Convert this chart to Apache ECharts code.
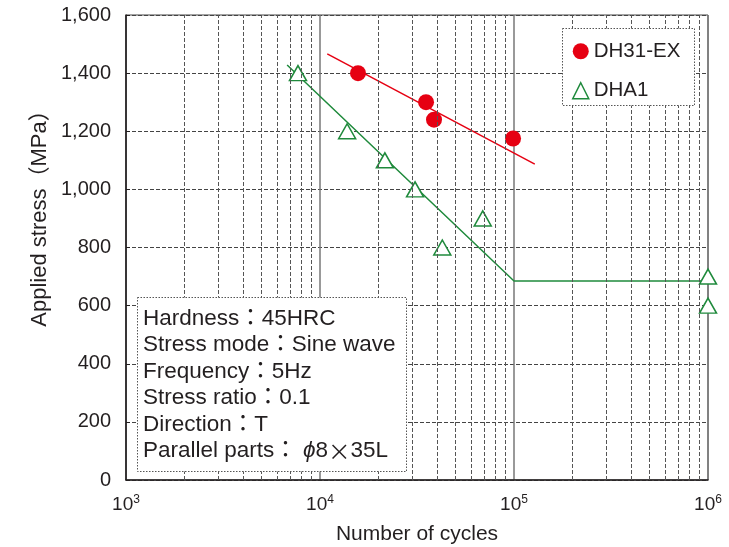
<!DOCTYPE html>
<html><head><meta charset="utf-8">
<script src="https://cdn.jsdelivr.net/npm/echarts@6/dist/echarts.min.js"></script>
<style>html,body{margin:0;padding:0;background:#fff}#c{width:729px;height:547px}</style>
</head><body><div id="c"></div>
<script>
// ---- data ----
const dh31Cycles = [15700, 35200, 38700, 98900];
const dh31Stress = [1400, 1300, 1240, 1175];
const dha1Cycles = [7700, 13800, 21600, 30900, 42700, 69000, 1000000, 1000000];
const dha1Stress = [1400, 1200, 1100, 1000, 800, 900, 700, 600];
const dh31FitCycles = [10900, 128000];
const dh31FitStress = [1466, 1087];
const dha1FitCycles = [6770, 100000, 1000000];
const dha1FitStress = [1428, 685, 685];
const minorCycles = [2000,3000,4000,5000,6000,7000,8000,9000,
  20000,30000,40000,50000,60000,70000,80000,90000,
  200000,300000,400000,500000,600000,700000,800000,900000];
const seriesNames = ['DH31-EX', 'DHA1'];
const infoLines = ['Hardness：45HRC', 'Stress mode：Sine wave', 'Frequency：5Hz',
  'Stress ratio：0.1', 'Direction：T'];
const lastInfoLabel = 'Parallel parts：';
const lastInfoPhi = ' ϕ';
const lastInfoValue = '8';
const lastInfoTimes = '×';
const lastInfoTail = '35L';
const xAxisName = 'Number of cycles';
const yAxisName = 'Applied stress（MPa）';

const RED = '#e60012', GREEN = '#1f8a3c', INK = '#231f20';
const FONT = '"Liberation Sans", Arial, "Noto Sans CJK JP", sans-serif';
const zip = (a, b) => a.map((v, i) => [v, b[i]]);

const chart = echarts.init(document.getElementById('c'));
const lineTops = [319, 345, 372, 398, 425, 451];
const graphics = [
  { type: 'rect', zlevel: 1, z: 1, shape: { x: 562.5, y: 28.5, width: 132, height: 77 },
    style: { fill: '#fff', stroke: '#555', lineWidth: 1, lineDash: [1.5, 1.5] } },
  { type: 'rect', zlevel: 1, z: 1, shape: { x: 137.5, y: 297.5, width: 269, height: 174 },
    style: { fill: '#fff', stroke: '#555', lineWidth: 1, lineDash: [1.5, 1.5] } },
  { type: 'text', z: 4, x: 40, y: 213, rotation: Math.PI / 2,
    style: { text: yAxisName, font: '22px ' + FONT, fill: INK, textAlign: 'center', textVerticalAlign: 'middle' } }
];
infoLines.forEach((t, i) => graphics.push({
  type: 'text', zlevel: 1, z: 5, x: 143, y: lineTops[i],
  style: { text: t, font: '22.5px ' + FONT, fill: INK, textAlign: 'left', textVerticalAlign: 'middle' }
}));
graphics.push({
  type: 'text', zlevel: 1, z: 5, x: 143, y: lineTops[5],
  style: {
    text: '{a|' + lastInfoLabel + '}{p|' + lastInfoPhi + '}{a|' + lastInfoValue + '}{m|' + lastInfoTimes + '}{a|' + lastInfoTail + '}',
    textAlign: 'left', textVerticalAlign: 'middle', fill: INK,
    rich: {
      a: { font: '22.5px ' + FONT, fill: INK },
      p: { font: 'italic 22.5px ' + FONT, fill: INK },
      m: { font: '22.5px "Noto Sans CJK JP"', fill: INK }
    }
  }
});

chart.setOption({
  animation: false,
  backgroundColor: '#fff',
  grid: { left: 126, right: 21, top: 15, bottom: 67, outerBoundsMode: 'none', containLabel: false,
    show: true, borderColor: '#444', borderWidth: 1 },
  legend: {
    zlevel: 2, z: 5, left: 562, top: 28, orient: 'vertical', padding: [13, 12, 13, 10],
    itemWidth: 16, itemHeight: 16, itemGap: 19, itemTextGap: 8,
    textStyle: { fontSize: 20.5, color: INK, fontFamily: FONT },
    data: [
      { name: seriesNames[0], icon: 'circle', itemStyle: { color: RED, borderWidth: 0 } },
      { name: seriesNames[1], icon: 'triangle', itemStyle: { color: '#fff', borderColor: GREEN, borderWidth: 1.5 } }
    ]
  },
  xAxis: {
    type: 'log', logBase: 10, min: 1000, max: 1000000,
    name: xAxisName, nameLocation: 'middle', nameGap: 44,
    nameTextStyle: { fontSize: 21, color: INK, fontFamily: FONT },
    axisLine: { lineStyle: { color: INK, width: 1.5 } },
    axisTick: { show: false },
    axisLabel: {
      margin: 14,
      formatter: v => '{b|10}{s|' + Math.round(Math.log10(v)) + '}',
      rich: {
        b: { fontSize: 19, color: INK, fontFamily: FONT, lineHeight: 22 },
        s: { fontSize: 12, color: INK, fontFamily: FONT, verticalAlign: 'top', lineHeight: 14 }
      }
    },
    splitLine: { show: true, lineStyle: { color: '#777', width: 1.5 } }
  },
  yAxis: {
    type: 'value', min: 0, max: 1600, interval: 200,
    axisLine: { show: true, lineStyle: { color: INK, width: 1.5 } },
    axisTick: { show: true, inside: true, length: 4, lineStyle: { color: INK } },
    axisLabel: { margin: 15, fontSize: 20, color: INK, fontFamily: FONT,
      formatter: v => v.toLocaleString('en-US') },
    splitLine: { show: true, lineStyle: { color: '#444', width: 1, type: [4, 2] } }
  },
  series: [
    { type: 'line', silent: true, data: [], z: 1,
      markLine: { silent: true, symbol: 'none', label: { show: false },
        lineStyle: { color: '#555', width: 1, type: [4, 2] },
        data: minorCycles.map(c => ({ xAxis: c })) } },
    { type: 'line', silent: true, data: zip(dh31FitCycles, dh31FitStress), showSymbol: false, symbol: 'none',
      lineStyle: { color: RED, width: 1.5 }, z: 2 },
    { type: 'line', silent: true, data: zip(dha1FitCycles, dha1FitStress), showSymbol: false, symbol: 'none',
      lineStyle: { color: GREEN, width: 1.5 }, z: 2 },
    { name: seriesNames[0], type: 'scatter', data: zip(dh31Cycles, dh31Stress), symbol: 'circle', symbolSize: 16,
      itemStyle: { color: RED, opacity: 1 }, z: 3 },
    { name: seriesNames[1], type: 'scatter', data: zip(dha1Cycles, dha1Stress), symbol: 'triangle', symbolSize: [17, 15],
      itemStyle: { color: '#fff', borderColor: GREEN, borderWidth: 1.5, opacity: 1 }, z: 3 }
  ],
  graphic: graphics
});
</script>
</body></html>
